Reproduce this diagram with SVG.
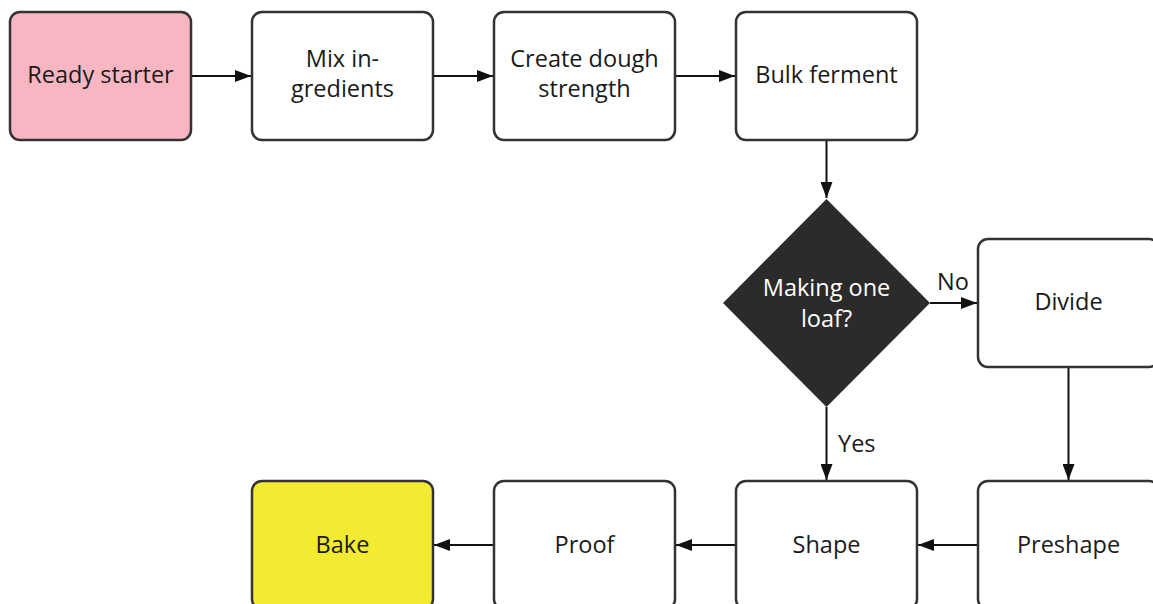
<svg xmlns="http://www.w3.org/2000/svg" width="1153" height="604" viewBox="0 0 1153 604">
<style>
.box{fill:#ffffff;stroke:#333333;stroke-width:2.5}
.t{font-family:"Open Sans","Noto Sans","Liberation Sans",sans-serif;font-size:23.5px;fill:#1a1a1a;text-anchor:middle}
.w{fill:#ffffff}
.lbl{font-family:"Open Sans","Noto Sans","Liberation Sans",sans-serif;font-size:23.5px;fill:#1a1a1a;text-anchor:start}
.c{stroke:#111111;stroke-width:2;fill:none;marker-end:url(#ah)}
</style>
<defs>
<marker id="ah" markerWidth="16" markerHeight="12" refX="16" refY="6" orient="auto" markerUnits="userSpaceOnUse">
<path d="M0,0 L16,6 L0,12 Z" fill="#111111"/>
</marker>
</defs>
<rect width="1153" height="604" fill="#ffffff"/>
<g id="connectors">
<line class="c" x1="192" y1="76" x2="251" y2="76"/>
<line class="c" x1="434" y1="76" x2="493" y2="76"/>
<line class="c" x1="676" y1="76" x2="735" y2="76"/>
<line class="c" x1="826.5" y1="141" x2="826.5" y2="198"/>
<line class="c" x1="930" y1="303" x2="977" y2="303"/>
<text class="lbl" x="937" y="290">No</text>
<line class="c" x1="826.5" y1="407" x2="826.5" y2="480"/>
<text class="lbl" x="838" y="452">Yes</text>
<line class="c" x1="1068.5" y1="368" x2="1068.5" y2="480"/>
<line class="c" x1="977" y1="545" x2="918" y2="545"/>
<line class="c" x1="735" y1="545" x2="676" y2="545"/>
<line class="c" x1="493" y1="545" x2="434" y2="545"/>
</g>
<g id="ready-starter">
<rect class="box" x="10" y="12" width="181" height="128" rx="10" style="fill:#f8b6c3"/>
<text class="t" x="100.5" y="82.5">Ready starter</text>
</g>
<g id="mix-ingredients">
<rect class="box" x="252" y="12" width="181" height="128" rx="10"/>
<text class="t" x="342.5" y="66.5">Mix in-</text>
<text class="t" x="342.5" y="97">gredients</text>
</g>
<g id="create-dough-strength">
<rect class="box" x="494" y="12" width="181" height="128" rx="10"/>
<text class="t" x="584.5" y="66.5">Create dough</text>
<text class="t" x="584.5" y="97">strength</text>
</g>
<g id="bulk-ferment">
<rect class="box" x="736" y="12" width="181" height="128" rx="10"/>
<text class="t" x="826.5" y="82.5">Bulk ferment</text>
</g>
<g id="making-one-loaf">
<polygon points="826.5,199 930,303 826.5,407 723,303" fill="#2b2b2b"/>
<text class="t w" x="826.5" y="296">Making one</text>
<text class="t w" x="826.5" y="327">loaf?</text>
</g>
<g id="divide">
<rect class="box" x="978" y="239" width="181" height="128" rx="10"/>
<text class="t" x="1068.5" y="310">Divide</text>
</g>
<g id="preshape">
<rect class="box" x="978" y="481" width="181" height="128" rx="10"/>
<text class="t" x="1068.5" y="553">Preshape</text>
</g>
<g id="shape">
<rect class="box" x="736" y="481" width="181" height="128" rx="10"/>
<text class="t" x="826.5" y="553">Shape</text>
</g>
<g id="proof">
<rect class="box" x="494" y="481" width="181" height="128" rx="10"/>
<text class="t" x="584.5" y="553">Proof</text>
</g>
<g id="bake">
<rect class="box" x="252" y="481" width="181" height="128" rx="10" style="fill:#f5ea32"/>
<text class="t" x="342.5" y="553">Bake</text>
</g>
</svg>
